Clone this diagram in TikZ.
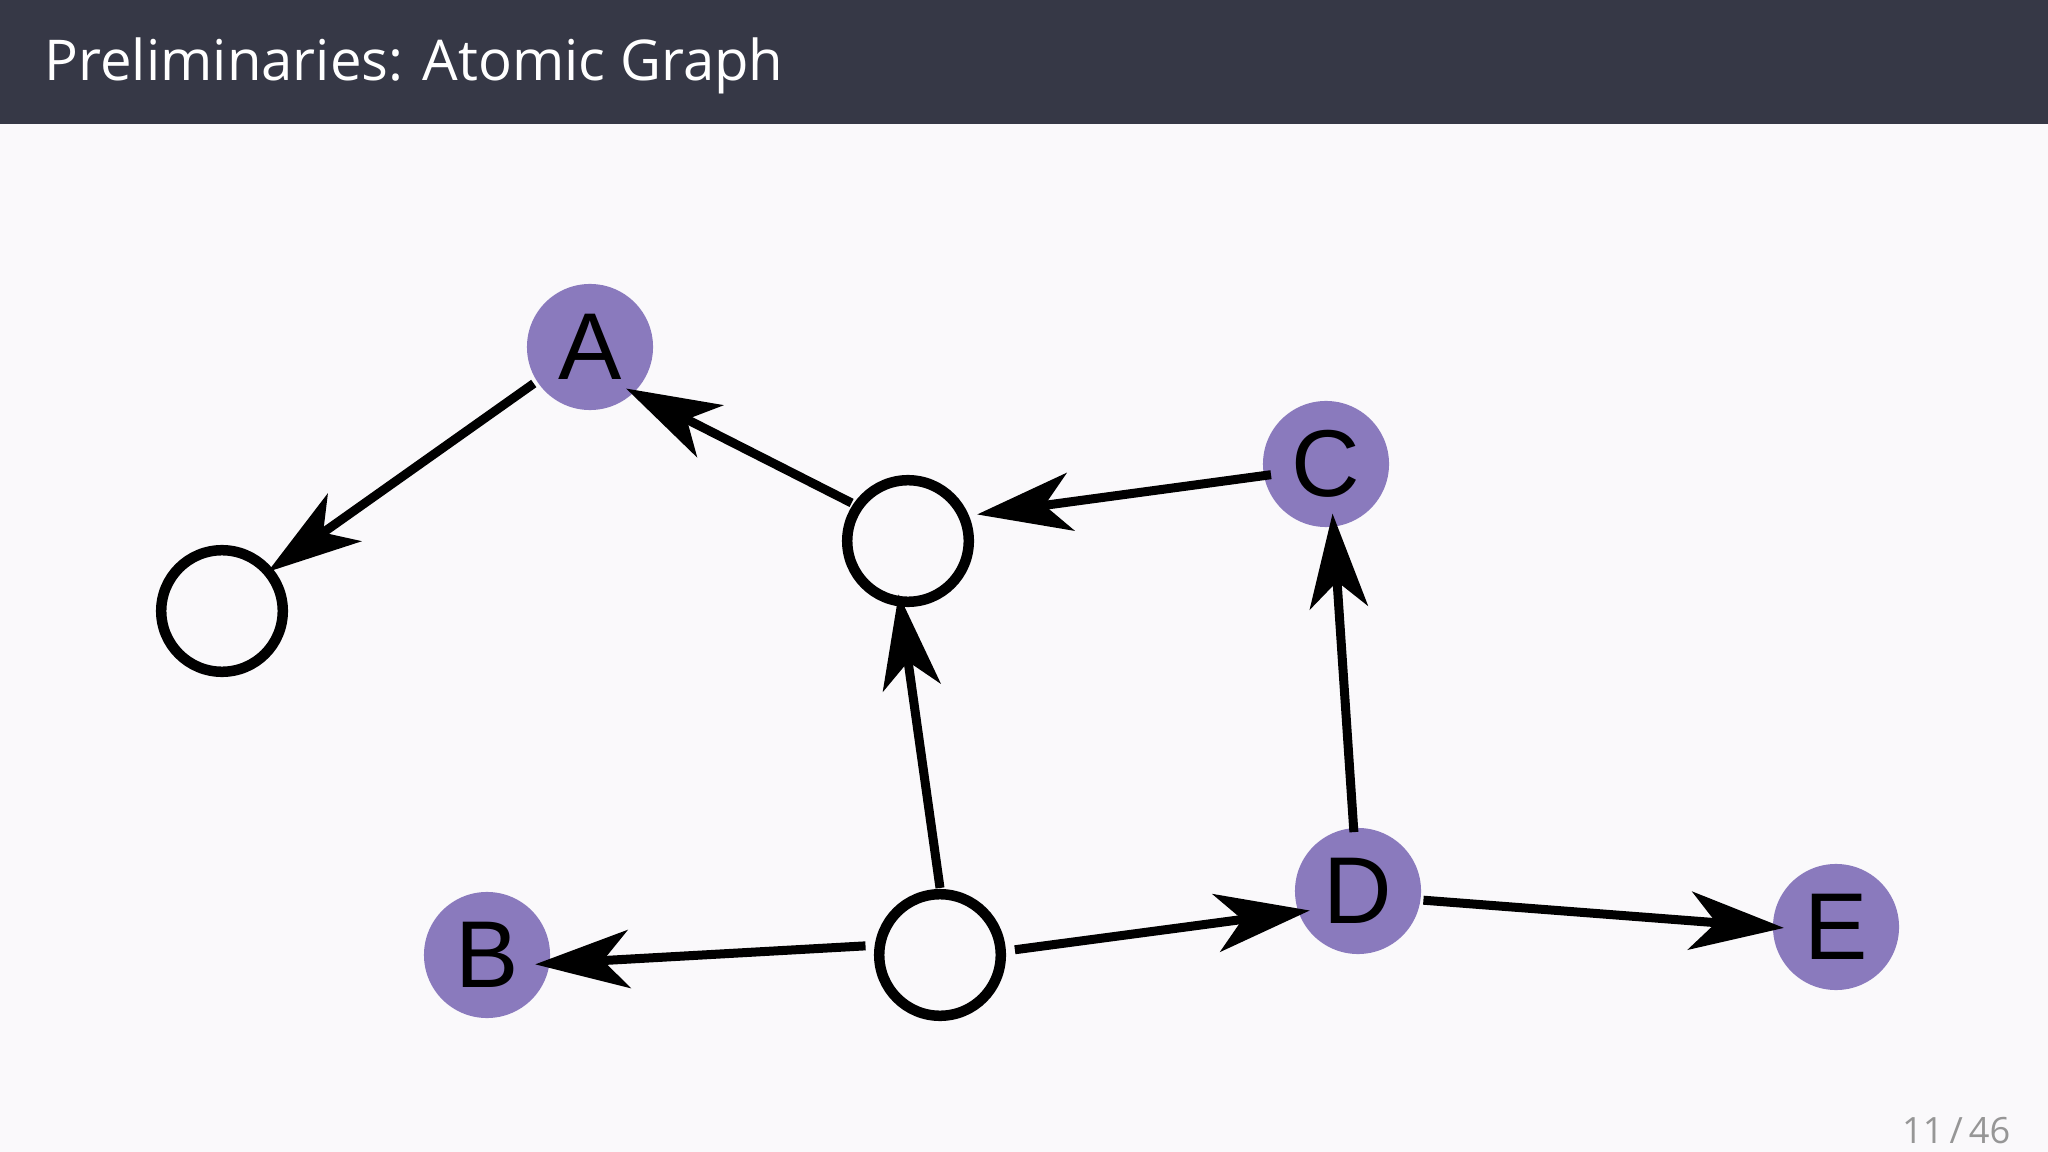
\documentclass[tikz,border=0pt]{standalone}
\usepackage{fontspec}
\setmainfont{Open Sans}
\newfontfamily\letterfont{Liberation Sans}
\usetikzlibrary{arrows.meta}

\definecolor{barcolor}{RGB}{54,56,70}
\definecolor{atomcolor}{RGB}{138,122,189}
\definecolor{slidebg}{RGB}{250,249,251}
\definecolor{pagegray}{RGB}{150,150,150}

\tikzset{
	atom/.style={circle, fill=atomcolor, minimum size=1.26cm, inner sep=0pt, outer sep=0pt,
		font=\letterfont\fontsize{27}{27}\selectfont},
	blank/.style={circle, draw=black, line width=0.105cm, minimum size=1.215cm, inner sep=0pt, outer sep=0pt},
	link/.style={line width=0.09cm, -{Stealth[length=0.94cm, width=0.58cm, inset=0.26cm]}}
}

\begin{document}
\begin{tikzpicture}[x=0.01cm, y=-0.01cm, line join=round]
	\useasboundingbox (0,0) rectangle (2048,1152);
	\fill[slidebg] (0,0) rectangle (2048,1152);
	\fill[barcolor] (0,0) rectangle (2048,124);
	\node[anchor=base west, inner sep=0pt, text=white, font=\fontsize{16}{18}\selectfont] (title) at (44,81) {Preliminaries: Atomic Graph};
	\node[anchor=base east, inner sep=0pt, text=pagegray, font=\fontsize{10.3}{12}\selectfont] (page) at (2011,1143) {11\,/\,46};
	
	% atoms with a label
	\foreach \name/\x/\y/\lbl in {a/590/347/A, c/1326/464/C, b/487/955/B, d/1358/891/D, e/1836/927/E}
	\node[atom] (\name) at (\x,\y) {\lbl};
	
	% unlabelled atoms
	\foreach \name/\x/\y in {left/222/611, mid/908/541, bot/940/955}
	\node[blank] (\name) at (\x,\y) {};
	
	% bonds: source, angle, distance -> target, angle, distance
	\foreach \from/\fa/\fd/\to/\ta/\td in {a/213/0.67cm/left/40.6/0.60cm, mid/146/0.68cm/a/311/0.55cm,
		c/191/0.56cm/mid/21/0.74cm, bot/90/0.67cm/mid/260/0.54cm, d/94/0.59cm/c/277.5/0.50cm,
		bot/173/0.75cm/b/349/0.49cm, bot/4/0.75cm/d/202/0.52cm, d/352/0.66cm/e/181/0.52cm}
	\draw[link] ([shift={(\fa:\fd)}]\from.center) -- ([shift={(\ta:\td)}]\to.center);
\end{tikzpicture}
\end{document}
